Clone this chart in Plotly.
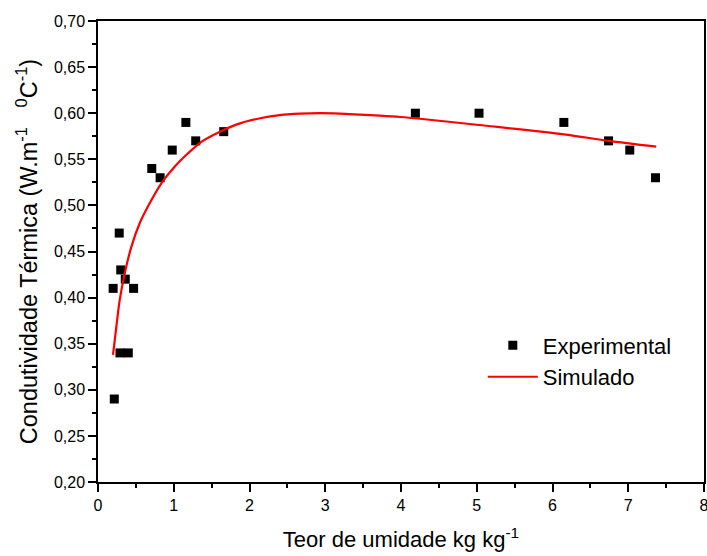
import plotly.graph_objects as go

# Measured thermal conductivity vs. moisture content
exp_x = [0.20, 0.215, 0.28, 0.30, 0.29, 0.36, 0.40, 0.47, 0.71, 0.82, 0.98, 1.16, 1.29, 1.66,
         4.19, 5.03, 6.15, 6.74, 7.02, 7.36]
exp_y = [0.41, 0.29, 0.47, 0.43, 0.34, 0.42, 0.34, 0.41, 0.54, 0.53, 0.56, 0.59, 0.57, 0.58,
         0.60, 0.60, 0.59, 0.57, 0.56, 0.53]

# Model curve (simulated)
sim_x = [0.198, 0.242, 0.286, 0.352, 0.44, 0.55, 0.68, 0.836, 1.012, 1.188, 1.364, 1.61,
         1.875, 2.14, 2.40, 2.667, 2.93, 3.19, 3.46, 3.72, 3.99, 4.25, 5.03, 6.15, 6.74, 7.37]
sim_y = [0.338, 0.3685, 0.397, 0.426, 0.455, 0.4806, 0.502, 0.524, 0.542, 0.5565, 0.569, 0.580,
         0.589, 0.5945, 0.598, 0.5995, 0.600, 0.5995, 0.5984, 0.5973, 0.5959, 0.594, 0.5872,
         0.5771, 0.570, 0.5637]

x_ticks = [0, 1, 2, 3, 4, 5, 6, 7, 8]
y_ticks = [0.20, 0.25, 0.30, 0.35, 0.40, 0.45, 0.50, 0.55, 0.60, 0.65, 0.70]
y_tick_text = [f"{v:.2f}".replace(".", ",") for v in y_ticks]

font_family = "Liberation Sans, Arial, sans-serif"

fig = go.Figure()
fig.add_trace(go.Scatter(
    x=exp_x, y=exp_y, mode="markers", name="Experimental",
    marker=dict(symbol="square", size=9, color="black", line=dict(width=0)),
))
fig.add_trace(go.Scatter(
    x=sim_x, y=sim_y, mode="lines", name="Simulado",
    line=dict(color="#ff0000", width=2.2, shape="spline", smoothing=0.8),
))

axis_common = dict(
    showline=True, linecolor="black", linewidth=1.5, mirror=True,
    ticks="outside", ticklen=8, tickwidth=1.5, tickcolor="black",
    showgrid=False, zeroline=False, automargin=False, ticklabeloverflow="allow",
    tickfont=dict(family=font_family, size=16, color="black"),
)

fig.update_layout(
    width=707, height=556,
    margin=dict(l=98, r=3, t=21, b=74),
    paper_bgcolor="white", plot_bgcolor="white",
    font=dict(family=font_family, color="black"),
    xaxis=dict(
        range=[0, 8], tickvals=x_ticks,
        minor=dict(dtick=0.5, ticks="outside", ticklen=4, tickwidth=1.5, tickcolor="black"),
        title=dict(text="Teor de umidade kg kg<sup>-1</sup>",
                   font=dict(family=font_family, size=22), standoff=19),
        **axis_common,
    ),
    yaxis=dict(
        range=[0.20, 0.70], tickvals=y_ticks, ticktext=y_tick_text,
        minor=dict(dtick=0.025, ticks="outside", ticklen=4, tickwidth=1.5, tickcolor="black"),
        title=dict(text="Condutividade Térmica (W.m<sup>-1</sup>\u00a0\u00a0\u00a0<sup>0</sup>C<sup>-1</sup>)",
                   font=dict(family=font_family, size=23.5), standoff=10),
        **axis_common,
    ),
    legend=dict(
        x=0.635, y=0.342, xanchor="left", yanchor="top",
        bgcolor="rgba(0,0,0,0)", borderwidth=0,
        font=dict(family=font_family, size=22, color="black"),
        itemwidth=50, tracegroupgap=0,
    ),
    showlegend=True,
)

fig.write_html("out.html")
